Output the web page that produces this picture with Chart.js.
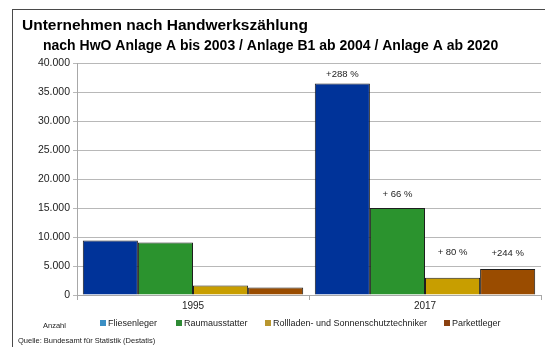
<!DOCTYPE html>
<html>
<head>
<meta charset="utf-8">
<script src="https://cdn.jsdelivr.net/npm/chart.js@4"></script>
<style>
  html, body { margin: 0; padding: 0; background: #fff; overflow: hidden; }
  #wrap { position: relative; width: 545px; height: 347px; }
  #frame { position: absolute; left: 12px; top: 9px; width: 600px; height: 400px;
           border-left: 1px solid #4a4a4a; border-top: 1px solid #4a4a4a; pointer-events: none; }
  canvas { position: absolute; left: 0; top: 0; }
</style>
</head>
<body>
<div id="wrap">
  <canvas id="c" width="545" height="347"></canvas>
  <div id="frame"></div>
</div>
<script>
// Survey years
const categories = ['1995', '2017'];

// Number of enterprises per trade
const fliesenleger   = [9400, 36450];
const raumausstatter = [9050, 15000];
const rollladen      = [1650, 2970];
const parkettleger   = [1300, 4470];

// Change 1995 -> 2017, written above the 2017 bars
const changeLabels = ['+288 %', '+ 66 %', '+ 80 %', '+244 %'];

// Value axis
const yTickLabels = ['0', '5.000', '10.000', '15.000', '20.000', '25.000', '30.000', '35.000', '40.000'];

const seriesNames = ['Fliesenleger', 'Raumausstatter', 'Rollladen- und Sonnenschutztechniker', 'Parkettleger'];
const seriesColors = ['#003399', '#2b932e', '#c89e00', '#9a4c00'];
const swatchColors = ['#3b8fc4', '#2e8a34', '#b8962e', '#8a4010'];

const FONT = '"Liberation Sans", Arial, sans-serif';

const seriesData = [fliesenleger, raumausstatter, rollladen, parkettleger];

const textPlugin = {
  id: 'textPlugin',
  afterDraw(chart) {
    const ctx = chart.ctx;
    ctx.save();
    ctx.fillStyle = '#000';
    ctx.textBaseline = 'alphabetic';
    ctx.textAlign = 'left';
    ctx.font = 'bold 15.5px ' + FONT;
    ctx.fillText('Unternehmen nach Handwerkszählung', 22, 30);
    ctx.font = 'bold 14px ' + FONT;
    ctx.fillText('nach HwO Anlage A bis 2003 / Anlage B1 ab 2004 / Anlage A ab 2020', 43, 50);

    // change labels above the 2017 bars
    const lift = [9, 14, 25, 16];
    ctx.font = '9.5px ' + FONT;
    ctx.fillStyle = '#222';
    ctx.textAlign = 'center';
    ctx.textBaseline = 'middle';
    chart.data.datasets.forEach((ds, i) => {
      const bar = chart.getDatasetMeta(i).data[1];
      ctx.fillText(changeLabels[i], bar.x, bar.y - lift[i]);
    });

    // legend row
    ctx.textAlign = 'left';
    ctx.font = '7.5px ' + FONT;
    ctx.fillStyle = '#222';
    ctx.fillText('Anzahl', 43, 326);
    const legendX = [100, 176, 265, 444];
    ctx.font = '9px ' + FONT;
    chart.data.datasets.forEach((ds, i) => {
      ctx.fillStyle = swatchColors[i];
      ctx.fillRect(legendX[i], 320, 6, 6);
      ctx.fillStyle = '#222';
      ctx.fillText(ds.label, legendX[i] + 8, 323.5);
    });

    ctx.font = '7.5px ' + FONT;
    ctx.fillStyle = '#222';
    ctx.fillText('Quelle: Bundesamt für Statistik (Destatis)', 18, 341);
    ctx.restore();
  }
};

new Chart(document.getElementById('c'), {
  type: 'bar',
  data: {
    labels: categories,
    datasets: seriesData.map((d, i) => ({
      label: seriesNames[i],
      data: d,
      backgroundColor: seriesColors[i],
      borderColor: '#1e1e1e',
      borderWidth: 1,
      categoryPercentage: 0.95,
      barPercentage: 1.0
    }))
  },
  options: {
    responsive: false,
    animation: false,
    devicePixelRatio: 1,
    layout: { padding: { left: 0, right: 4, top: 63, bottom: 32 } },
    plugins: {
      legend: { display: false },
      title: { display: false },
      tooltip: { enabled: false }
    },
    scales: {
      x: {
        grid: { display: true, offset: true, drawOnChartArea: false, tickLength: 5, color: '#a8a8a8' },
        border: { color: '#a8a8a8' },
        ticks: { color: '#222', font: { family: FONT, size: 10 }, padding: 0 },
        afterFit(scale) { scale.height = 20; }
      },
      y: {
        min: 0,
        max: 40000,
        grid: { color: '#b8b8b8', tickLength: 4 },
        border: { color: '#a8a8a8' },
        ticks: {
          stepSize: 5000,
          color: '#222',
          padding: 3,
          font: { family: FONT, size: 10.5 },
          callback: (v, idx) => yTickLabels[idx]
        },
        afterFit(scale) { scale.width = 77; }
      }
    }
  },
  plugins: [textPlugin]
});
</script>
</body>
</html>
